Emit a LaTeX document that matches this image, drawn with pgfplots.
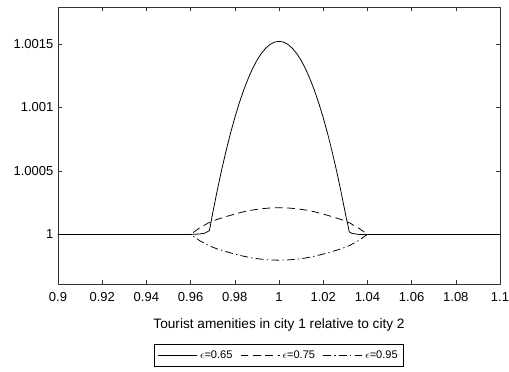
\documentclass[border=0pt]{standalone}
\usepackage{pgfplots}
\pgfplotsset{compat=1.18}
\usepackage{fontspec}
\setmainfont{Liberation Sans}
\begin{document}
\begin{tikzpicture}
\begin{axis}[
  scale only axis,
  width=340pt, height=213pt,
  xmin=0.9, xmax=1.1,
  ymin=-0.00039, ymax=0.00179,
  scaled y ticks=false, scaled x ticks=false,
  xtick={0.9,0.92,0.94,0.96,0.98,1,1.02,1.04,1.06,1.08,1.1},
  xticklabels={0.9,0.92,0.94,0.96,0.98,1,1.02,1.04,1.06,1.08,1.1},
  ytick={0,0.0005,0.001,0.0015},
  yticklabels={1,1.0005,1.001,1.0015},
  tick align=inside,
  major tick length=3pt,
  axis line style={black!80},
  every tick/.style={black!80},
  tick label style={font=\fontsize{10}{12}\selectfont},
  xticklabel style={yshift=-3pt},
  xlabel={Tourist amenities in city 1 relative to city 2},
  xlabel style={font=\fontsize{10.5}{12}\selectfont, yshift=-6pt},
  legend style={at={(0.5,-0.218)}, anchor=north, legend columns=-1,
    draw=black, font=\fontsize{8.5}{10}\selectfont, inner sep=2.5pt,
    /tikz/every even column/.append style={column sep=4pt}},
  legend image code/.code={\draw[#1] (0pt,0pt) -- (30pt,0pt);},
]
\addplot[black, line width=0.6pt] coordinates {
(0.9,0) (0.96,0) (0.964,0.000003) (0.9665,0.00001) (0.9685,0.00003)
(0.970,0.000167) (0.972,0.000342) (0.974,0.000504) (0.976,0.000654)
(0.978,0.000793) (0.980,0.000919) (0.982,0.001033) (0.984,0.001135)
(0.986,0.001225) (0.988,0.001304) (0.990,0.00137) (0.992,0.001424)
(0.994,0.001466) (0.996,0.001496) (0.998,0.001514) (1.000,0.00152)
(1.002,0.001514) (1.004,0.001496) (1.006,0.001466) (1.008,0.001424)
(1.010,0.00137) (1.012,0.001304) (1.014,0.001225) (1.016,0.001135)
(1.018,0.001033) (1.020,0.000919) (1.022,0.000793) (1.024,0.000654)
(1.026,0.000504) (1.028,0.000342) (1.030,0.000167) (1.0318,0.00002)
(1.033,0.000008) (1.036,0) (1.1,0)
};
\addlegendentry{$\epsilon$=0.65}
\addplot[black, line width=0.6pt, dash pattern=on 6pt off 3.5pt] coordinates {
(0.9,0) (0.96,0) (0.964,0.00005) (0.968,0.00009) (0.972,0.000118)
(0.976,0.00014) (0.980,0.00016) (0.984,0.000178) (0.988,0.000192)
(0.992,0.000202) (0.996,0.000208) (1.000,0.00021) (1.004,0.000208)
(1.008,0.000202) (1.012,0.000192) (1.016,0.000178) (1.020,0.00016)
(1.024,0.00014) (1.028,0.000118) (1.032,0.00009) (1.036,0.00005)
(1.040,0) (1.1,0)
};
\addlegendentry{$\epsilon$=0.75}
\addplot[black, line width=0.6pt, dash pattern=on 6pt off 2.5pt on 1pt off 2.5pt] coordinates {
(0.9,0) (0.96,0) (0.964,-0.000048) (0.968,-0.000087) (0.972,-0.000114)
(0.976,-0.000135) (0.980,-0.000155) (0.984,-0.000172) (0.988,-0.000186)
(0.992,-0.000195) (0.996,-0.000201) (1.000,-0.000203) (1.004,-0.000201)
(1.008,-0.000195) (1.012,-0.000186) (1.016,-0.000172) (1.020,-0.000155)
(1.024,-0.000135) (1.028,-0.000114) (1.032,-0.000087) (1.036,-0.000048)
(1.040,0) (1.1,0)
};
\addlegendentry{$\epsilon$=0.95}
\end{axis}
\pgfresetboundingbox
\path ([xshift=-44.6pt,yshift=-67.7pt]current axis.south west) rectangle ([xshift=6.9pt,yshift=5.4pt]current axis.north east);
\end{tikzpicture}
\end{document}
